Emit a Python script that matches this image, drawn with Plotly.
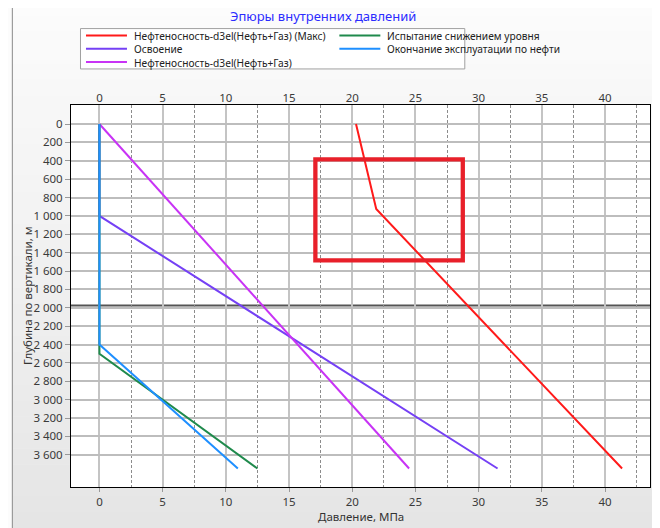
import plotly.graph_objects as go

# ---------------- data ----------------
title_text = "Эпюры внутренних давлений"
x_title = "Давление, МПа"
y_title = "Глубина по вертикали, м"

names = [
    "Нефтеносность-d3el(Нефть+Газ) (Макс)",
    "Освоение",
    "Нефтеносность-d3el(Нефть+Газ)",
    "Испытание снижением уровня",
    "Окончание эксплуатации по нефти",
]
colors = ["#ff1a1a", "#7540f5", "#c833f5", "#1f8a4c", "#1e8fff"]

# pressure (MPa) vs depth (m)
red_p = [20.3, 21.9, 41.35]
red_d = [0, 925, 3750]
purple_p = [0, 0, 31.5]
purple_d = [0, 1000, 3750]
magenta_p = [0, 24.5]
magenta_d = [0, 3750]
green_p = [0, 0, 12.5]
green_d = [0, 2500, 3750]
blue_p = [0, 0, 10.95]
blue_d = [0, 2400, 3750]
marker_depth = [1975]

x_tickvals = [0, 5, 10, 15, 20, 25, 30, 35, 40]
y_tickvals = list(range(0, 3601, 200))
y_ticktext = [f"{v:,}".replace(",", " ") for v in y_tickvals]

series = [
    (red_p, red_d),
    (purple_p, purple_d),
    (magenta_p, magenta_d),
    (green_p, green_d),
    (blue_p, blue_d),
]

# ---------------- layout geometry ----------------
# The page has an 8px body margin, so the figure starts at page (8, 8).
OFF = 8
PAGE_W, PAGE_H = 660, 528
W, H = PAGE_W - OFF, PAGE_H - OFF
# plot area in page pixels
P_L, P_R, P_T, P_B = 71, 650.3, 105.3, 486.7
L = P_L - OFF
T = P_T - OFF
R = W - (P_R - OFF)
B = H - (P_B - OFF)
PW = P_R - P_L
PH = P_B - P_T


def px(x):  # page pixel -> paper x
    return (x - P_L) / PW


def py(y):  # page pixel -> paper y
    return (P_B - y) / PH


fig = go.Figure()

for (p, d), name, col in zip(series, names, colors):
    fig.add_trace(go.Scatter(x=p, y=d, mode="lines", name=name,
                             line=dict(color=col, width=2), showlegend=False))

# invisible helper trace so that the top axis (x2) is drawn
fig.add_trace(go.Scatter(x=magenta_p, y=magenta_d, xaxis="x2", mode="lines",
                         line=dict(width=0), opacity=0, showlegend=False,
                         hoverinfo="skip"))

shapes = []


def band(x0, x1, y0, y1, c):
    shapes.append(dict(type="rect", xref="paper", yref="paper", layer="below",
                       x0=px(x0), x1=px(x1), y0=py(y1), y1=py(y0),
                       line=dict(width=0), fillcolor=f"rgb({c},{c},{c})"))


# background gradient bands (outside plot area only)
nb = 33
c_top, c_bot = 252, 229
XL = 12.5
for i in range(nb):
    y0 = PAGE_H * i / nb
    y1 = PAGE_H * (i + 1) / nb + 0.6
    c = round(c_top + (c_bot - c_top) * (i + 0.5) / nb)
    a0, a1 = y0, min(y1, P_T)
    if a1 > a0:
        band(XL, PAGE_W + 2, a0, a1, c)
    b0, b1 = max(y0, P_B), y1
    if b1 > b0:
        band(XL, PAGE_W + 2, b0, b1, c)
    m0, m1 = max(y0, P_T), min(y1, P_B)
    if m1 > m0:
        band(XL, P_L, m0, m1, c)
        band(P_R, PAGE_W + 2, m0, m1, c)

# window border line on the left
shapes.append(dict(type="line", xref="paper", yref="paper", layer="above",
                   x0=px(12.3), x1=px(12.3), y0=py(PAGE_H + 2), y1=py(OFF - 2),
                   line=dict(color="#8a8a8a", width=1)))
# horizontal dark marker line across the plot
shapes.append(dict(type="line", xref="paper", yref="y", layer="below",
                   x0=0, x1=1, y0=marker_depth[0], y1=marker_depth[0],
                   line=dict(color="#555555", width=2)))
# red highlight rectangle
shapes.append(dict(type="rect", xref="paper", yref="paper", layer="above",
                   x0=px(315.5), x1=px(463), y0=py(260.5), y1=py(159.5),
                   line=dict(color="#e8202a", width=4.3)))
# legend box
shapes.append(dict(type="rect", xref="paper", yref="paper", layer="above",
                   x0=px(80.5), x1=px(465), y0=py(69.3), y1=py(29),
                   line=dict(color="#a0a0a0", width=1), fillcolor="white"))

annotations = []
# legend: two columns
leg_font = dict(family="Noto Sans", size=10.2, color="#222222")
line_gap = 10.2 * 1.3
row_y = [35.8, 35.8 + line_gap, 35.8 + 2 * line_gap]
col_line_x = [86, 339.5]
columns = [[0, 1, 2], [3, 4]]
for ci, idxs in enumerate(columns):
    lx = col_line_x[ci]
    for ri, k in enumerate(idxs):
        shapes.append(dict(type="line", xref="paper", yref="paper", layer="above",
                           x0=px(lx), x1=px(lx + 41), y0=py(row_y[ri]), y1=py(row_y[ri]),
                           line=dict(color=colors[k], width=2)))
    center = (row_y[0] + row_y[len(idxs) - 1]) / 2
    annotations.append(dict(text="<br>".join(names[k] for k in idxs),
                            xref="paper", yref="paper",
                            x=px(lx + 46), y=py(center + 0.5), xanchor="left",
                            yanchor="middle", align="left", showarrow=False,
                            font=leg_font))

# title
annotations.append(dict(text=title_text, xref="paper", yref="paper",
                        x=px(323), y=py(16.8), xanchor="center", yanchor="middle",
                        showarrow=False, borderpad=0,
                        font=dict(family="Noto Sans", size=13, color="#2b2bff")))
# axis titles
annotations.append(dict(text=y_title, xref="paper", yref="paper",
                        x=px(27), y=py(296), xanchor="center", yanchor="middle",
                        textangle=-90, showarrow=False,
                        font=dict(family="Noto Sans", size=11.5, color="#333333")))
annotations.append(dict(text=x_title, xref="paper", yref="paper",
                        x=px(361), y=py(516.5), xanchor="center", yanchor="middle",
                        showarrow=False,
                        font=dict(family="Noto Sans", size=11.5, color="#333333")))

tick_font = dict(family="Noto Sans", size=11.5, color="#3a3a3a")
xrange = [-2.25, 43.56]

fig.update_layout(
    width=W, height=H,
    margin=dict(l=L, r=R, t=T, b=B, pad=0, autoexpand=False),
    paper_bgcolor="#fcfcfc",
    plot_bgcolor="white",
    shapes=shapes,
    annotations=annotations,
    showlegend=False,
    xaxis=dict(
        range=xrange, tickvals=x_tickvals, tickfont=tick_font, automargin=False,
        showgrid=True, gridcolor="#c4c4c4", gridwidth=1.5,
        zeroline=False, showline=True, linecolor="black", linewidth=1, mirror=True,
        ticks="outside", ticklen=4, tickcolor="#999999",
        minor=dict(dtick=2.5, tick0=0, showgrid=True, gridcolor="#8c8c8c",
                   griddash="3px,2px", gridwidth=1, ticks=""),
    ),
    xaxis2=dict(
        range=xrange, tickvals=x_tickvals, tickfont=tick_font, automargin=False,
        overlaying="x", side="top", anchor="y", showgrid=False, zeroline=False,
        ticks="", showline=False,
    ),
    yaxis=dict(
        range=[3951, -207], tickvals=y_tickvals, ticktext=y_ticktext, tickfont=tick_font,
        automargin=False,
        showgrid=True, gridcolor="#bdbdbd", gridwidth=1.5,
        zeroline=False, showline=True, linecolor="black", linewidth=1, mirror=True,
        ticks="outside", ticklen=5, tickcolor="#999999",
    ),
)

fig.write_html("out.html")
